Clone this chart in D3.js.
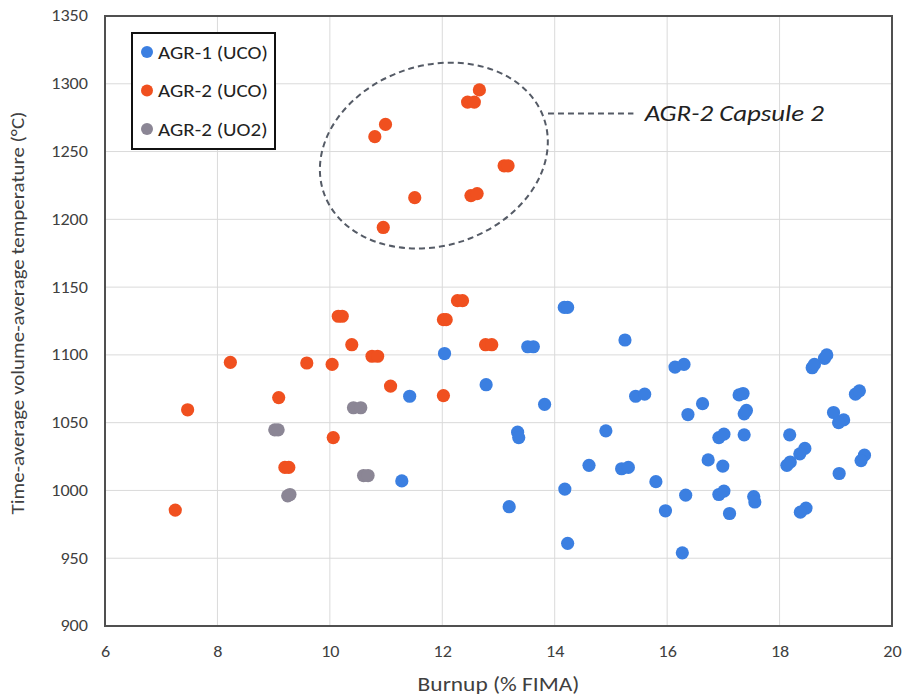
<!DOCTYPE html>
<html>
<head>
<meta charset="utf-8">
<script src="https://cdn.jsdelivr.net/npm/d3@7"></script>
<style>
  html, body { margin: 0; padding: 0; background: #fff; }
  svg text { font-family: Carlito, Lato, "Open Sans", sans-serif; fill: #404040; }
</style>
</head>
<body>
<svg id="chart" width="905" height="698"></svg>
<script>
// Burnup (% FIMA) vs time-average volume-average temperature (°C)
const agr1UCO = [
  [12.04,1101],[11.42,1069.5],[11.28,1007],[14.17,1135],[14.23,1135],[15.25,1111],
  [13.52,1106],[13.62,1106],[12.78,1078],[13.82,1063.5],[15.44,1069.5],[15.6,1071],
  [13.34,1043],[13.36,1039],[14.91,1044],[14.61,1018.5],[15.19,1016],[15.31,1017],
  [15.8,1006.5],[14.18,1001],[13.19,988],[14.23,961],[16.14,1091],[16.30,1093],
  [16.63,1064],[16.37,1056],[17.28,1070.5],[17.35,1071.5],[17.37,1056.5],[17.41,1059],
  [16.92,1039],[17.01,1041.5],[17.37,1041],[16.73,1022.5],[16.99,1018],[16.33,996.5],
  [16.92,997],[17.01,999.5],[17.54,995.5],[17.56,991.5],[17.11,983],[15.97,985],
  [16.27,954],[18.18,1041],[18.45,1031],[18.36,1027],[18.19,1021],[18.13,1018.5],
  [19.51,1026],[19.45,1022],[18.58,1090.5],[18.62,1093],[18.8,1097.5],[18.84,1100],
  [19.35,1071],[19.42,1073.5],[18.96,1057.5],[19.14,1052],[19.05,1050],[19.06,1012.5],
  [18.47,987],[18.37,984]
];
const agr2UCO = [
  [12.66,1295.5],[12.45,1286.5],[12.57,1286.5],[10.99,1270],[10.80,1261],[13.10,1239.5],
  [13.17,1239.5],[11.51,1216],[12.51,1217.5],[12.62,1219],[10.95,1194],
  [12.27,1140],[12.36,1140],[12.02,1126],[12.07,1126],[10.15,1128.5],[10.22,1128.5],
  [10.39,1107.5],[10.75,1099],[10.85,1099],[8.23,1094.5],[9.59,1094],[10.04,1093],
  [11.08,1077],[12.02,1070],[9.09,1068.5],[7.47,1059.5],[10.06,1039],[9.20,1017],
  [9.27,1017],[7.25,985.5],[12.77,1107.5],[12.88,1107.5]
];
const agr2UO2 = [
  [10.42,1061],[10.55,1061],[9.02,1044.7],[9.08,1044.7],[10.60,1011],[10.68,1011],
  [9.25,996],[9.29,997]
];
const seriesNames = ["AGR-1 (UCO)", "AGR-2 (UCO)", "AGR-2 (UO2)"];
const seriesColors = ["#3b7fe1", "#f0501f", "#8b8695"];
const xTicks = [6, 8, 10, 12, 14, 16, 18, 20];
const yTicks = [900, 950, 1000, 1050, 1100, 1150, 1200, 1250, 1300, 1350];

// Capsule 2 callout, in data units
const calloutCenter = [11.85, 1247];
const calloutRadii = [2.067, 66.5];
const calloutLine = [[13.88, 1278], [15.4, 1278]];
const calloutLabel = "AGR-2 Capsule 2";
const calloutLabelPos = [15.6, 1272.5];

const svg = d3.select("#chart");
const plotLeft = 105, plotRight = 892, plotTop = 16, plotBottom = 626;
const widen = 1.17; // horizontal stretch applied to all lettering

// stretch a text selection horizontally, keeping its anchor
function stretch(sel, factor) {
  sel.each(function () {
    const w = this.getComputedTextLength();
    d3.select(this).attr("textLength", w * factor).attr("lengthAdjust", "spacingAndGlyphs");
  });
}

const x = d3.scaleLinear().domain([6, 20]).range([plotLeft, plotRight]);
const y = d3.scaleLinear().domain([900, 1350]).range([plotBottom, plotTop]);

// gridlines
const grid = svg.append("g");
grid.selectAll("line.v").data(xTicks.slice(1, -1)).enter().append("line")
  .attr("x1", d => x(d)).attr("x2", d => x(d))
  .attr("y1", plotTop).attr("y2", plotBottom)
  .attr("stroke", "#dadada").attr("stroke-width", 1);
grid.selectAll("line.h").data(yTicks.slice(1, -1)).enter().append("line")
  .attr("x1", plotLeft).attr("x2", plotRight)
  .attr("y1", d => y(d)).attr("y2", d => y(d))
  .attr("stroke", "#dadada").attr("stroke-width", 1);

// axes (labels only, frame drawn separately)
const xAxis = svg.append("g").attr("transform", `translate(0,${plotBottom})`)
  .call(d3.axisBottom(x).tickValues(xTicks).tickFormat(d3.format("d")).tickSize(0).tickPadding(20));
const yAxis = svg.append("g").attr("transform", `translate(${plotLeft},0)`)
  .call(d3.axisLeft(y).tickValues(yTicks).tickFormat(d3.format("d")).tickSize(0).tickPadding(17));
[xAxis, yAxis].forEach(a => {
  a.select(".domain").remove();
  a.selectAll("text").style("font-size", "15.5px").attr("fill", "#404040");
  stretch(a.selectAll("text"), widen);
});

// plot frame
svg.append("rect")
  .attr("x", plotLeft).attr("y", plotTop)
  .attr("width", plotRight - plotLeft).attr("height", plotBottom - plotTop)
  .attr("fill", "none").attr("stroke", "#505050").attr("stroke-width", 2);

// axis titles
svg.append("text")
  .attr("x", (plotLeft + plotRight) / 2).attr("y", 691)
  .attr("text-anchor", "middle")
  .style("font-size", "20px")
  .text("Burnup (% FIMA)")
  .call(stretch, widen);
svg.append("text")
  .attr("transform", `translate(24,313) rotate(-90)`)
  .attr("text-anchor", "middle")
  .style("font-size", "19px")
  .text("Time-average volume-average temperature (°C)")
  .call(stretch, 1.1);

// points
const allSeries = [agr1UCO, agr2UCO, agr2UO2];
allSeries.forEach((data, i) => {
  svg.append("g").selectAll("circle").data(data).enter().append("circle")
    .attr("cx", d => x(d[0])).attr("cy", d => y(d[1]))
    .attr("r", 6.6).attr("fill", seriesColors[i]);
});

// callout ellipse and leader line
const cx = x(calloutCenter[0]), cy = y(calloutCenter[1]);
const rx = x(calloutCenter[0] + calloutRadii[0]) - cx;
const ry = cy - y(calloutCenter[1] + calloutRadii[1]);
svg.append("ellipse")
  .attr("cx", cx).attr("cy", cy).attr("rx", rx).attr("ry", ry)
  .attr("transform", `rotate(-18,${cx},${cy})`)
  .attr("fill", "none").attr("stroke", "#555b66")
  .attr("stroke-width", 2).attr("stroke-dasharray", "6,4");
svg.append("line")
  .attr("x1", x(calloutLine[0][0])).attr("y1", y(calloutLine[0][1]))
  .attr("x2", x(calloutLine[1][0])).attr("y2", y(calloutLine[1][1]))
  .attr("stroke", "#555b66").attr("stroke-width", 2).attr("stroke-dasharray", "6,4");
svg.append("text")
  .attr("x", x(calloutLabelPos[0])).attr("y", y(calloutLabelPos[1]))
  .style("font-size", "23px").style("font-style", "italic")
  .style("fill", "#222")
  .text(calloutLabel)
  .call(stretch, widen);

// legend
const legend = svg.append("g");
legend.append("rect")
  .attr("x", 132).attr("y", 33).attr("width", 143).attr("height", 116)
  .attr("fill", "#fff").attr("stroke", "#111").attr("stroke-width", 2);
seriesNames.forEach((name, i) => {
  const ly = 52 + i * 38.5;
  legend.append("circle").attr("cx", 147).attr("cy", ly).attr("r", 6)
    .attr("fill", seriesColors[i]);
  legend.append("text").attr("x", 158).attr("y", ly + 6.5)
    .style("font-size", "18px").style("fill", "#222").text(name)
    .call(stretch, widen);
});
</script>
</body>
</html>
